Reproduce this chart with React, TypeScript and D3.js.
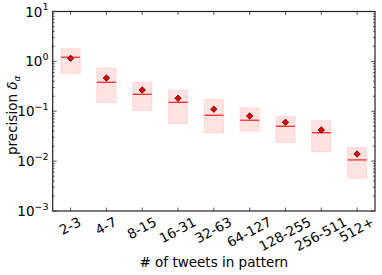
import React, { useEffect, useRef } from "react";
import * as d3 from "d3";

const categories = ["2-3", "4-7", "8-15", "16-31", "32-63", "64-127", "128-255", "256-511", "512+"];
const boxHigh = [1.77, 0.73, 0.381, 0.264, 0.171, 0.116, 0.078, 0.064, 0.0187];
const boxLow = [0.577, 0.151, 0.105, 0.0565, 0.0372, 0.0403, 0.0239, 0.0155, 0.00454];
const medians = [1.21, 0.381, 0.219, 0.151, 0.083, 0.066, 0.05, 0.0372, 0.01057];
const means = [1.15, 0.464, 0.267, 0.182, 0.11, 0.0805, 0.06, 0.042, 0.0139];
const yExponents = [1, 0, -1, -2, -3];

const FONT = "'DejaVu Sans', sans-serif";

const App = () => {
  const ref = useRef<SVGSVGElement>(null);

  useEffect(() => {
    draw();
  });

  const draw = () => {
    const left = 52.7;
    const right = 375;
    const top = 11.5;
    const bottom = 211;

    const svg = d3.select(ref.current);
    svg.selectAll("*").remove();

    const x = d3.scaleLinear().domain([-0.5, categories.length - 0.5]).range([left, right]);
    const y = d3.scaleLog().domain([1e-3, 10]).range([bottom, top]);

    const data = categories.map((c, i) => ({
      c,
      i,
      hi: boxHigh[i],
      lo: boxLow[i],
      med: medians[i],
      mean: means[i],
    }));

    // boxes
    const half = 0.265;
    svg.append("g")
      .selectAll("rect")
      .data(data)
      .join("rect")
      .attr("x", (d) => x(d.i - half))
      .attr("width", (d) => x(d.i + half) - x(d.i - half))
      .attr("y", (d) => y(d.hi))
      .attr("height", (d) => y(d.lo) - y(d.hi))
      .attr("fill", "rgb(255,226,226)")
      .attr("stroke", "rgb(255,212,212)")
      .attr("stroke-width", 1);

    // medians
    svg.append("g")
      .selectAll("line")
      .data(data)
      .join("line")
      .attr("x1", (d) => x(d.i - half))
      .attr("x2", (d) => x(d.i + half))
      .attr("y1", (d) => y(d.med))
      .attr("y2", (d) => y(d.med))
      .attr("stroke", "#ff2a2a")
      .attr("stroke-width", 1.3);

    // means (diamonds)
    const sym = d3.symbol().type(d3.symbolSquare).size(21);
    svg.append("g")
      .selectAll("path")
      .data(data)
      .join("path")
      .attr("d", sym)
      .attr("transform", (d) => `translate(${x(d.i)},${y(d.mean)}) rotate(45)`)
      .attr("fill", "#e60000")
      .attr("stroke", "#3a0000")
      .attr("stroke-width", 0.7);

    // ticks
    const tickColor = "#333";
    const ticks = svg.append("g").attr("stroke", tickColor).attr("stroke-width", 0.8);
    data.forEach((d) => {
      ticks.append("line").attr("x1", x(d.i)).attr("x2", x(d.i)).attr("y1", bottom).attr("y2", bottom - 3.5);
      ticks.append("line").attr("x1", x(d.i)).attr("x2", x(d.i)).attr("y1", top).attr("y2", top + 3.5);
    });
    for (let e = -3; e <= 1; e++) {
      const v = Math.pow(10, e);
      ticks.append("line").attr("x1", left).attr("x2", left + 4).attr("y1", y(v)).attr("y2", y(v));
      ticks.append("line").attr("x1", right).attr("x2", right - 4).attr("y1", y(v)).attr("y2", y(v));
      if (e < 1) {
        for (let m = 2; m <= 9; m++) {
          const mv = m * v;
          ticks.append("line").attr("x1", left).attr("x2", left + 2).attr("y1", y(mv)).attr("y2", y(mv));
          ticks.append("line").attr("x1", right).attr("x2", right - 2).attr("y1", y(mv)).attr("y2", y(mv));
        }
      }
    }

    // frame
    svg.append("rect")
      .attr("x", left)
      .attr("y", top)
      .attr("width", right - left)
      .attr("height", bottom - top)
      .attr("fill", "none")
      .attr("stroke", "#222")
      .attr("stroke-width", 1.2);

    // y tick labels
    const yl = svg.append("g").attr("font-family", FONT).attr("fill", "#000");
    yExponents.forEach((e) => {
      const t = yl.append("text")
        .attr("x", 48.5)
        .attr("y", y(Math.pow(10, e)) + 5)
        .attr("text-anchor", "end")
        .attr("font-size", 13.5);
      t.append("tspan").text("10");
      t.append("tspan")
        .attr("dy", -6.5)
        .attr("font-size", 9.5)
        .text(e < 0 ? `\u2212${-e}` : `${e}`);
    });

    // x tick labels
    const angle = 28;
    const rad = (angle * Math.PI) / 180;
    const xl = svg.append("g").attr("font-family", FONT).attr("font-size", 13.5).attr("fill", "#000");
    data.forEach((d) => {
      const g = xl.append("g");
      const t = g.append("text")
        .attr("text-anchor", "middle")
        .attr("dy", "0.35em")
        .text(d.c);
      const w = (t.node() as SVGTextElement).getComputedTextLength();
      const h = 9.8;
      const cy = 216.5 + (w * Math.sin(rad) + h * Math.cos(rad)) / 2;
      g.attr("transform", `translate(${x(d.i) - 0.5},${cy}) rotate(${-angle})`);
    });

    // axis titles
    svg.append("text")
      .attr("x", (left + right) / 2)
      .attr("y", 266.5)
      .attr("text-anchor", "middle")
      .attr("font-family", FONT)
      .attr("font-size", 13.5)
      .text("# of tweets in pattern");

    const yt = svg.append("text")
      .attr("transform", `translate(17,${(top + bottom) / 2 + 4}) rotate(-90)`)
      .attr("text-anchor", "middle")
      .attr("font-family", FONT)
      .attr("font-size", 13.5);
    yt.append("tspan").text("precision ");
    yt.append("tspan").attr("font-style", "italic").text("\u03b4");
    yt.append("tspan").attr("font-style", "italic").attr("font-size", 9).attr("dy", 3).text("\u03b1");
  };

  return (
    <svg
      ref={ref}
      width={382}
      height={275}
      style={{ position: "absolute", left: 0, top: 0, background: "#fff" }}
    />
  );
};

export default App;
